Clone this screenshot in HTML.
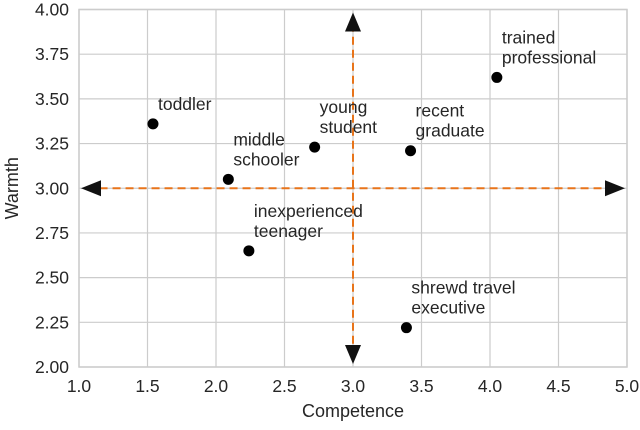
<!DOCTYPE html>
<html><head><meta charset="utf-8"><style>
body{margin:0;background:#fff}
text{font-family:"Liberation Sans",sans-serif;fill:#262626}
</style></head><body>
<svg width="640" height="425">
<g id="grid"></g><g id="marks"></g>
</svg>
<script>
const names=[["toddler"],["middle","schooler"],["young","student"],["recent","graduate"],["trained","professional"],["inexperienced","teenager"],["shrewd travel","executive"]];
const competence=[1.54,2.09,2.72,3.42,4.05,2.24,3.39];
const warmth=[3.36,3.05,3.23,3.21,3.62,2.65,2.22];
const xTicks=[1.0,1.5,2.0,2.5,3.0,3.5,4.0,4.5,5.0];
const yTicks=[2.00,2.25,2.50,2.75,3.00,3.25,3.50,3.75,4.00];
const L=79,R=627,T=9.5,B=367;
const X=v=>L+(v-1)/4*(R-L), Y=v=>B-(v-2)/2*(B-T);
const NS="http://www.w3.org/2000/svg";
const g=document.getElementById('grid'), m=document.getElementById('marks');
function el(t,a,p){const e=document.createElementNS(NS,t);for(const k in a)e.setAttribute(k,a[k]);p.appendChild(e);return e;}
xTicks.forEach(v=>{
 const l=el('line',{x1:X(v),x2:X(v),y1:T,y2:B,stroke:'#cccccc','stroke-width':1.2},g);
 
 
 const t=el('text',{x:X(v),y:B+25,'text-anchor':'middle','font-size':17.5},g);t.textContent=v.toFixed(1);
 
 
});
yTicks.forEach(v=>{
 const l=el('line',{x1:L,x2:R,y1:Y(v),y2:Y(v),stroke:'#cccccc','stroke-width':1.2},g);
 
 
 const t=el('text',{x:L-10,y:Y(v)+6,'text-anchor':'end','font-size':17.5},g);t.textContent=v.toFixed(2);
 
 
});
const fr=el('rect',{x:L,y:T,width:R-L,height:B-T,fill:'none',stroke:'#cccccc','stroke-width':1.5},g);


const xl=el('text',{x:(L+R)/2,y:417,'text-anchor':'middle','font-size':18},g);xl.textContent='Competence';


const yl=el('text',{x:0,y:0,'text-anchor':'middle','font-size':18,transform:`translate(18,${(T+B)/2}) rotate(-90)`},g);yl.textContent='Warmth';


const hl=el('line',{x1:X(1.15),x2:X(4.85),y1:Y(3),y2:Y(3),stroke:'#e8741a','stroke-width':2,'stroke-dasharray':'8,5'},m);


const vl=el('line',{x1:X(3),x2:X(3),y1:Y(3.92),y2:Y(2.08),stroke:'#e8741a','stroke-width':2,'stroke-dasharray':'8,5'},m);


const cx=X(3),cy=Y(3);
[[`${X(1.0)+2},${cy} ${X(1.0)+22},${cy-8} ${X(1.0)+22},${cy+8}`],[`${X(5)-2},${cy} ${X(5)-22},${cy-8} ${X(5)-22},${cy+8}`],
 [`${cx},${Y(4)+3} ${cx-8},${Y(4)+22} ${cx+8},${Y(4)+22}`],[`${cx},${Y(2)-3} ${cx-8},${Y(2)-22} ${cx+8},${Y(2)-22}`]].forEach(p=>{
 const h=el('polygon',{points:p[0],fill:'#111'},m);
 
 
});
names.forEach((n,i)=>{
 const px=X(competence[i]),py=Y(warmth[i]);
 const c=el('circle',{cx:px,cy:py,r:5.5,fill:'#000'},m);
 
 
 const t=el('text',{x:px+5,'font-size':17.5},m);
 
 
 n.forEach((s,j)=>{const ts=el('tspan',{x:px+5,y:py-14-(n.length-1-j)*20},t);ts.textContent=s;});
});
</script>
</body></html>
